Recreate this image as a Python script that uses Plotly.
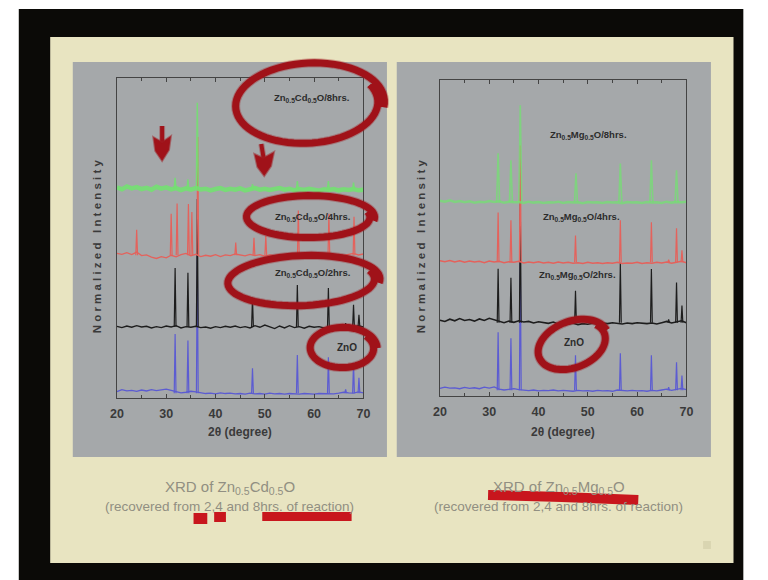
import math
import plotly.graph_objects as go

W, H = 768, 580

# ---------------------------------------------------------------- data
TWO_THETA_GRID = list(range(20, 71))          # baseline sampling, degrees
ZNO_PEAKS = [31.8, 34.4, 36.3, 47.5, 56.6, 62.9, 66.4, 68.0, 69.1]

# Zn0.5Cd0.5O panel -----------------------------------------------------
cd_levels = {"ZnO": 1.5, "2hrs": 22.2, "4hrs": 44.6, "8hrs": 65.3}

cd_zno_base = [2.0, 2.6, 2.2, 2.4, 2.1, 2.5, 2.2, 2.6, 2.3, 2.5, 2.8, 2.4, 1.9,
               1.6, 1.8, 2.1, 1.9, 1.6, 1.4, 1.5, 1.3, 1.6, 1.4, 1.5, 1.3, 1.4,
               1.2, 1.5, 1.3, 1.4, 1.2, 1.5, 1.3, 1.4, 1.2, 1.4, 1.3, 1.2, 1.4,
               1.3, 1.2, 1.4, 1.3, 1.2, 1.3, 1.5, 1.8, 1.6, 1.5, 1.9, 1.6]
cd_2h_base = [22.4, 22.0, 22.5, 22.1, 22.6, 22.2, 22.4, 21.9, 22.3, 22.0, 22.5,
              22.2, 22.6, 21.9, 22.3, 22.1, 22.4, 22.0, 22.2, 21.8, 22.3, 22.0,
              22.4, 22.1, 22.5, 22.0, 22.3, 21.9, 22.6, 22.1, 22.8, 22.2, 21.7,
              22.5, 21.9, 22.6, 22.0, 22.3, 21.8, 22.4, 22.1, 22.3, 21.9, 22.2,
              22.0, 22.4, 22.8, 22.3, 22.1, 22.6, 22.2]
cd_4h_base = [45.2, 44.9, 45.4, 44.8, 45.6, 44.5, 44.7, 44.0, 43.6, 44.2, 43.8,
              44.6, 44.1, 44.8, 45.2, 44.4, 44.9, 44.2, 44.6, 44.3, 44.8, 44.2,
              44.7, 44.5, 45.0, 44.6, 44.4, 44.9, 44.5, 44.8, 44.3, 44.7, 44.5,
              44.9, 44.6, 44.4, 44.8, 44.5, 44.7, 44.3, 44.6, 44.8, 44.4, 44.7,
              44.5, 44.9, 44.6, 44.8, 45.2, 44.7, 45.0]
cd_8h_base = [65.8, 65.2, 66.1, 65.5, 65.9, 65.3, 65.7, 65.1, 66.0, 65.4, 65.8,
              65.2, 65.6, 65.0, 65.5, 65.1, 65.6, 65.2, 65.4, 64.9, 65.3, 65.6,
              65.0, 65.4, 65.1, 65.5, 64.9, 65.2, 65.6, 65.1, 65.4, 65.0, 65.3,
              65.6, 65.1, 65.4, 64.9, 65.3, 65.0, 65.4, 65.1, 64.8, 65.2, 65.0,
              65.3, 64.9, 65.2, 65.0, 65.3, 64.9, 65.1]

cd_zno_heights = [18.5, 16.5, 44.0, 7.8, 11.9, 11.2, 1.2, 9.5, 4.8]
cd_2h_heights = [18.4, 16.9, 40.0, 9.1, 13.1, 12.2, 1.2, 6.9, 3.8]
cd_4h_peaks = [24.0, 31.0, 32.2, 34.5, 35.2, 36.4, 44.1, 47.8, 50.2, 56.8, 63.0, 68.1]
cd_4h_heights = [8.0, 13.0, 16.2, 16.0, 13.5, 37.0, 4.0, 5.5, 6.0, 14.0, 13.0, 12.0]
cd_8h_peaks = [31.8, 34.4, 36.3, 47.5, 56.6, 62.9, 68.0]
cd_8h_heights = [3.5, 3.0, 27.0, 1.5, 2.5, 2.5, 2.0]

# Zn0.5Mg0.5O panel -----------------------------------------------------
mg_levels = {"ZnO": 1.8, "2hrs": 23.2, "4hrs": 42.3, "8hrs": 61.3}

mg_zno_base = [2.4, 2.8, 2.5, 2.6, 2.3, 2.7, 2.4, 2.6, 2.3, 2.8, 2.5, 2.9, 2.2,
               1.9, 2.1, 2.3, 2.0, 1.8, 1.7, 1.9, 1.6, 1.8, 1.7, 1.9, 1.6, 1.8,
               1.7, 1.5, 1.8, 1.6, 1.7, 1.5, 1.8, 1.6, 1.7, 1.5, 1.9, 1.7, 1.6,
               1.8, 1.6, 1.7, 1.5, 1.8, 1.6, 1.9, 2.2, 1.8, 2.0, 2.4, 2.0]
mg_2h_base = [24.0, 23.6, 24.3, 23.8, 24.5, 23.9, 24.2, 23.7, 24.4, 23.9, 24.6,
              24.1, 23.5, 23.2, 23.7, 23.3, 23.8, 23.4, 23.6, 23.1, 23.5, 23.2,
              23.0, 23.4, 22.8, 23.1, 22.7, 23.0, 22.6, 22.9, 22.7, 23.0, 22.8,
              23.1, 22.9, 23.2, 23.0, 22.8, 23.1, 22.9, 23.2, 23.0, 22.9, 23.1,
              22.8, 23.2, 23.6, 23.1, 23.4, 23.8, 23.2]
mg_4h_base = [42.8, 42.5, 42.9, 42.4, 42.8, 42.3, 42.7, 42.4, 42.6, 42.2, 42.7,
              42.4, 42.6, 42.2, 42.5, 42.3, 42.6, 42.1, 42.4, 42.2, 42.5, 42.1,
              42.3, 42.0, 42.4, 42.1, 42.3, 42.0, 42.2, 41.9, 42.3, 42.0, 42.2,
              41.9, 42.2, 42.0, 42.3, 41.9, 42.1, 42.0, 42.3, 41.9, 42.2, 42.0,
              42.3, 42.1, 42.4, 42.0, 42.3, 42.6, 42.2]
mg_8h_base = [61.8, 61.5, 61.9, 61.4, 61.7, 61.3, 61.6, 61.2, 61.5, 61.3, 61.7,
              61.4, 61.6, 61.2, 61.5, 61.3, 61.4, 61.1, 61.5, 61.2, 61.4, 61.1,
              61.3, 61.2, 61.5, 61.1, 61.4, 61.2, 61.3, 61.0, 61.4, 61.2, 61.3,
              61.1, 61.4, 61.2, 61.3, 61.0, 61.4, 61.2, 61.3, 61.1, 61.4, 61.2,
              61.3, 61.1, 61.5, 61.2, 61.4, 61.3, 61.5]

mg_zno_heights = [18.4, 16.5, 44.0, 11.1, 11.7, 11.1, 1.0, 8.9, 4.7]
mg_2h_heights = [17.1, 14.2, 38.0, 10.1, 19.0, 17.0, 1.0, 12.7, 5.4]
mg_4h_heights = [15.8, 13.3, 37.0, 8.5, 13.3, 12.7, 0.8, 10.8, 3.8]
mg_8h_peaks = [31.8, 34.4, 36.3, 47.6, 56.6, 62.9, 68.0]
mg_8h_heights = [15.5, 13.3, 30.7, 9.2, 12.3, 13.3, 10.1]

X_TICKS = [20, 30, 40, 50, 60, 70]

COL_BLUE = "#5c5cd2"
COL_BLACK = "#1d1d1d"
COL_RED = "#e4625c"
COL_GREEN = "#74e072"
INK = "#a01219"
INK_BRIGHT = "#c8161d"

# ---------------------------------------------------------------- helpers
def px(x, y):
    """Pixel position on the page -> paper coordinates."""
    return x / W, 1 - y / H


def spikes(positions, heights, level, half_width):
    xs, ys = [], []
    for p, h in zip(positions, heights):
        xs += [p - half_width, p, p + half_width, None]
        ys += [level, level + h, level, None]
    return xs, ys


fig = go.Figure()


def add_pattern(xa, ya, base, peaks, heights, level, color, base_width, spike_width, hw, opacity=1.0):
    fig.add_trace(go.Scatter(x=TWO_THETA_GRID, y=base, mode="lines", xaxis=xa, yaxis=ya,
                             line=dict(color=color, width=base_width), opacity=opacity,
                             hoverinfo="skip", showlegend=False))
    sx, sy = spikes(peaks, heights, level, hw)
    fig.add_trace(go.Scatter(x=sx, y=sy, mode="lines", xaxis=xa, yaxis=ya,
                             line=dict(color=color, width=spike_width), opacity=opacity,
                             hoverinfo="skip", showlegend=False, connectgaps=False))


# left panel: Zn0.5Cd0.5O
add_pattern("x", "y", cd_zno_base, ZNO_PEAKS, cd_zno_heights, cd_levels["ZnO"], COL_BLUE, 1.3, 1.2, 0.18)
add_pattern("x", "y", cd_2h_base, ZNO_PEAKS, cd_2h_heights, cd_levels["2hrs"], COL_BLACK, 1.4, 1.2, 0.18)
add_pattern("x", "y", cd_4h_base, cd_4h_peaks, cd_4h_heights, cd_levels["4hrs"], COL_RED, 1.3, 1.2, 0.18)
add_pattern("x", "y", cd_8h_base, cd_8h_peaks, cd_8h_heights, cd_levels["8hrs"], COL_GREEN, 4.5, 1.4, 0.2, 0.9)

# right panel: Zn0.5Mg0.5O
add_pattern("x2", "y2", mg_zno_base, ZNO_PEAKS, mg_zno_heights, mg_levels["ZnO"], COL_BLUE, 1.3, 1.2, 0.18)
add_pattern("x2", "y2", mg_2h_base, ZNO_PEAKS, mg_2h_heights, mg_levels["2hrs"], COL_BLACK, 1.6, 1.2, 0.18)
add_pattern("x2", "y2", mg_4h_base, ZNO_PEAKS, mg_4h_heights, mg_levels["4hrs"], COL_RED, 1.5, 1.2, 0.18)
add_pattern("x2", "y2", mg_8h_base, mg_8h_peaks, mg_8h_heights, mg_levels["8hrs"], COL_GREEN, 2.5, 1.6, 0.3, 0.75)

# ---------------------------------------------------------------- axes
def xaxis_style(x0, x1, anchor):
    return dict(domain=[x0 / W, x1 / W], range=[20, 70], anchor=anchor,
                tickvals=X_TICKS, ticks="inside", ticklen=4, tickcolor="#444",
                minor=dict(dtick=5, tick0=20, ticks="inside", ticklen=3, tickcolor="#444"),
                showline=True, linecolor="#444", linewidth=1, mirror="ticks",
                showgrid=False, zeroline=False, ticklabelstandoff=4,
                tickfont=dict(family="Liberation Sans", size=12.5, color="#3a3a3a", weight="bold"))


def yaxis_style(ytop, ybot, anchor):
    return dict(domain=[1 - ybot / H, 1 - ytop / H], range=[0, 100], anchor=anchor,
                showticklabels=False, ticks="", showline=True, linecolor="#444",
                linewidth=1, mirror=True, showgrid=False, zeroline=False)


fig.update_layout(
    width=W, height=H, autosize=False,
    margin=dict(l=0, r=0, t=0, b=0),
    paper_bgcolor="#ffffff", plot_bgcolor="rgba(0,0,0,0)",
    xaxis=xaxis_style(112, 363, "y"), yaxis=yaxis_style(78, 398, "x"),
    xaxis2=xaxis_style(441, 692, "y2"), yaxis2=yaxis_style(80, 396, "x2"),
)

# ---------------------------------------------------------------- slide backdrop
shapes = []


def rect(x0, y0, x1, y1, color, layer="below", line=None):
    a, b = px(x0, y0)
    c, d = px(x1, y1)
    shapes.append(dict(type="rect", xref="paper", yref="paper", x0=a, x1=c, y0=d, y1=b,
                       fillcolor=color, line=line or dict(width=0), layer=layer))


rect(12, 9, 750, 580, "#0b0a07")
rect(44, 37, 740, 563, "#e8e4c1")
rect(67, 62, 387, 457, "#a5a8aa")
rect(397, 62, 717, 457, "#a5a8aa")
rect(709, 541, 717, 549, "#d9d5b1")

# ---------------------------------------------------------------- marker ink
def path_of(points, close=False):
    s = "M " + " L ".join("%.5f,%.5f" % px(x, y) for x, y in points)
    return s + (" Z" if close else "")


def loop_points(cx, cy, rx, ry, rot, start, sweep, grow, n=80):
    phi = math.radians(rot)
    pts = []
    for i in range(n + 1):
        f = i / n
        t = math.radians(start + sweep * f)
        r = 1 - grow / 2 + grow * f
        ex, ey = rx * math.cos(t) * r, ry * math.sin(t) * r
        pts.append((cx + ex * math.cos(phi) - ey * math.sin(phi),
                    cy + ex * math.sin(phi) + ey * math.cos(phi)))
    return pts


def ink_stroke(points, width, color=INK, close=False):
    shapes.append(dict(type="path", xref="paper", yref="paper", path=path_of(points, close),
                       line=dict(color="rgba(160,30,35,0.35)", width=width + 2), layer="above"))
    shapes.append(dict(type="path", xref="paper", yref="paper", path=path_of(points, close),
                       line=dict(color=color, width=width), layer="above"))


def ink_fill(points, color=INK):
    shapes.append(dict(type="path", xref="paper", yref="paper", path=path_of(points, True),
                       fillcolor=color, line=dict(color="rgba(160,30,35,0.5)", width=2),
                       layer="above"))


ink_stroke(loop_points(307, 104, 74, 40, -3, -25, 395, 0.10), 7)
ink_stroke(loop_points(308, 217, 64, 21, 0, -15, 385, 0.08), 7)
ink_stroke(loop_points(301, 281, 76, 25, -2, -20, 390, 0.08), 7)
ink_stroke(loop_points(342, 348, 33, 20, 0, -40, 400, 0.12), 7)
ink_stroke(loop_points(576, 345, 36, 23, -20, -30, 385, 0.10), 7)

# down arrows
ink_stroke([(158, 126), (158, 146)], 4)
ink_fill([(149, 137), (158, 142), (167, 136), (165, 150), (158, 161), (151, 151)])
ink_stroke([(259, 144), (262, 162)], 4)
ink_fill([(252, 154), (261, 158), (272, 152), (269, 166), (262, 176), (255, 167)])

# underlines below the captions
rect(190, 513, 204, 524, INK_BRIGHT, layer="above")
rect(211, 512, 223, 522, INK_BRIGHT, layer="above")
rect(260, 512, 351, 521, INK_BRIGHT, layer="above")
shapes.append(dict(type="path", xref="paper", yref="paper",
                   path=path_of([(490, 495), (565, 497), (643, 500)]),
                   line=dict(color=INK_BRIGHT, width=10), layer="above"))

fig.update_layout(shapes=shapes)

# ---------------------------------------------------------------- text
ann = []


def text(x, y, s, size, color="#2c2c2c", bold=True, angle=0, family="Liberation Sans"):
    a, b = px(x, y)
    ann.append(dict(x=a, y=b, xref="paper", yref="paper", text=s, showarrow=False,
                    textangle=angle, xanchor="center", yanchor="middle",
                    font=dict(family=family, size=size, color=color,
                              weight="bold" if bold else "normal")))


SUB = "<sub>0.5</sub>"
ytitle = "N o r m a l i z e d   I n t e n s i t y"
text(92, 246, ytitle, 11.5, "#3a3a3a", angle=-90)
text(422, 246, ytitle, 11.5, "#3a3a3a", angle=-90)
text(237, 432, "2θ (degree)", 12, "#3a3a3a")
text(566, 432, "2θ (degree)", 12, "#3a3a3a")

text(311, 98, "Zn" + SUB + "Cd" + SUB + "O/8hrs.", 9.5)
text(312, 217, "Zn" + SUB + "Cd" + SUB + "O/4hrs.", 9.5)
text(312, 273, "Zn" + SUB + "Cd" + SUB + "O/2hrs.", 9.5)
text(346, 347, "ZnO", 10)

text(592, 135, "Zn" + SUB + "Mg" + SUB + "O/8hrs.", 9.5)
text(585, 217, "Zn" + SUB + "Mg" + SUB + "O/4hrs.", 9.5)
text(581, 275, "Zn" + SUB + "Mg" + SUB + "O/2hrs.", 9.5)
text(578, 342, "ZnO", 10)

CAP = "#918f82"
text(227, 487, "XRD of Zn" + SUB + "Cd" + SUB + "O", 15, CAP, bold=False)
text(227, 506, "(recovered from 2,4 and 8hrs. of reaction)", 13.5, CAP, bold=False)
text(562, 487, "XRD of Zn" + SUB + "Mg" + SUB + "O", 15, CAP, bold=False)
text(562, 506, "(recovered from 2,4 and 8hrs. of reaction)", 13.5, CAP, bold=False)

fig.update_layout(annotations=ann)

fig.write_html("out.html")
